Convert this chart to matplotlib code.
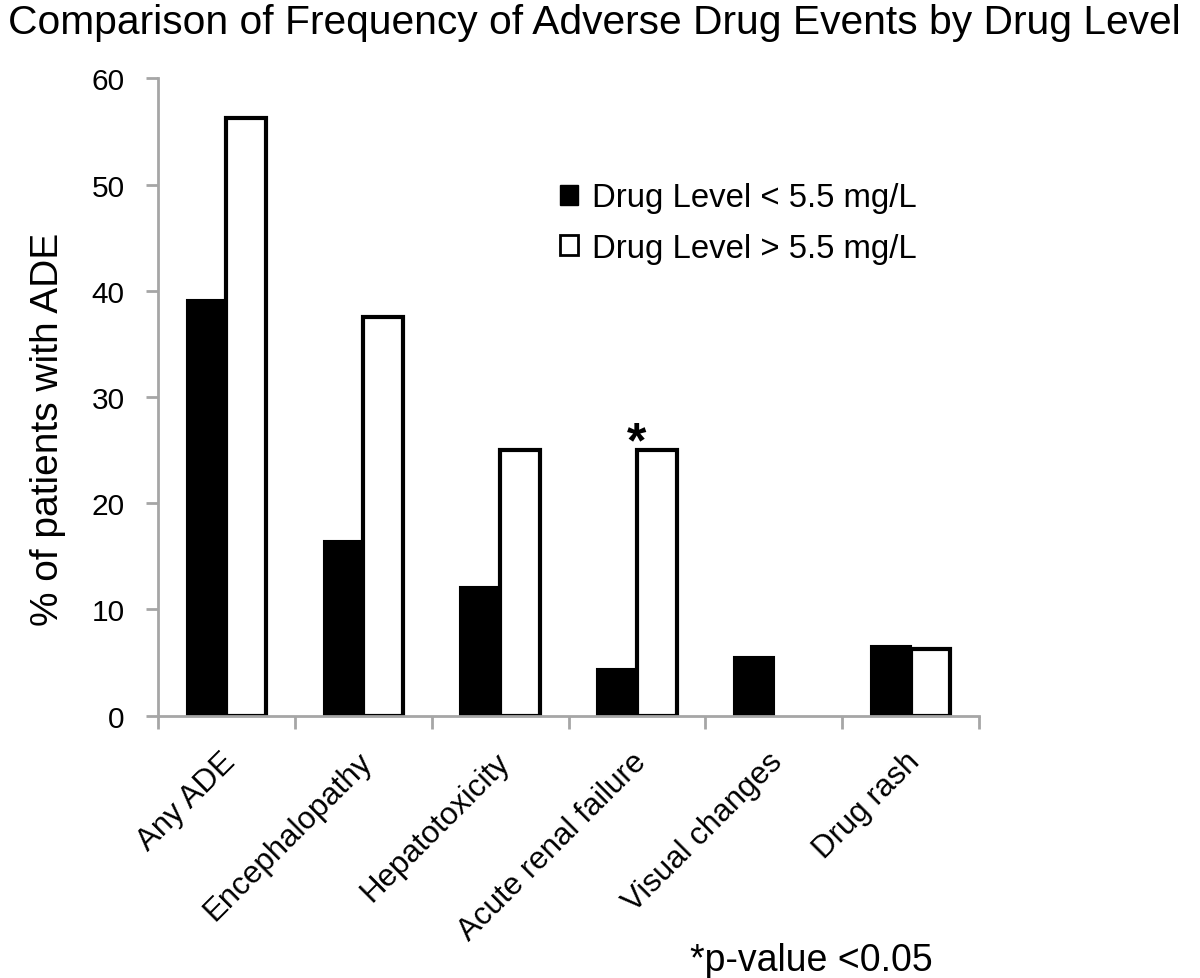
import numpy as np
import matplotlib
matplotlib.use('Agg')
import matplotlib.pyplot as plt
import matplotlib.transforms as mtransforms
from matplotlib.patches import Patch

plt.rcParams['font.family'] = ['Liberation Sans', 'DejaVu Sans']

# data
categories = ['Any ADE', 'Encephalopathy', 'Hepatotoxicity', 'Acute renal failure',
              'Visual changes', 'Drug rash']
low_level = [39.1, 16.4, 12.1, 4.4, 5.5, 6.5]    # Drug Level < 5.5 mg/L
high_level = [56.3, 37.5, 25.0, 25.0, 0.0, 6.3]  # Drug Level > 5.5 mg/L
yticks = [0, 10, 20, 30, 40, 50, 60]

grey = '#a6a6a6'
w = 0.29

fig = plt.figure(figsize=(12, 9.79), dpi=100)
ax = fig.add_axes([0.1317, 0.2681, 0.6841, 0.6509])

x = np.arange(len(categories))
ax.bar(x - w / 2, low_level, width=w, color='black', edgecolor='black', linewidth=1.5)
hi = np.array(high_level)
mask = hi > 0
ax.bar(x[mask] + w / 2, hi[mask], width=w, color='white', edgecolor='black', linewidth=3)

ax.set_xlim(-0.5, len(categories) - 0.5)
ax.set_ylim(0, 60)
ax.set_yticks(yticks)
ax.tick_params(axis='y', labelsize=21.5, color=grey, width=2, length=9, direction='out', pad=15)

# category boundaries get tick marks, labels sit at the centres
ax.set_xticks(x)
ax.set_xticklabels(categories, rotation=45, ha='right', va='top', rotation_mode='anchor', fontsize=22.5)
ax.tick_params(axis='x', which='major', length=0, pad=22)
shift = mtransforms.ScaledTranslation(-0.06, 0, fig.dpi_scale_trans)
for lab in ax.get_xticklabels():
    lab.set_transform(lab.get_transform() + shift)
ax.set_xticks(np.arange(-0.5, len(categories)), minor=True)
ax.tick_params(axis='x', which='minor', color=grey, width=2, length=9, direction='out')

for s in ['top', 'right']:
    ax.spines[s].set_visible(False)
for s in ['left', 'bottom']:
    ax.spines[s].set_color(grey)
    ax.spines[s].set_linewidth(2)

ax.set_ylabel('% of patients with ADE', fontsize=28, va='center')
ax.yaxis.set_label_coords(-0.134, 0.45)

# significance marker
ax.text(3, 24.4, '*', ha='center', va='baseline', fontsize=36, fontweight='bold')

handles = [Patch(facecolor='black', edgecolor='black'),
           Patch(facecolor='white', edgecolor='black', linewidth=2)]
ax.legend(handles, ['Drug Level < 5.5 mg/L', 'Drug Level > 5.5 mg/L'],
          loc='upper left', bbox_to_anchor=(0.454, 0.883), frameon=False, fontsize=23.7,
          handlelength=0.55, handleheight=0.55, handletextpad=0.4, labelspacing=0.58)

fig.text(0.495, 1 - 34 / 979, 'Comparison of Frequency of Adverse Drug Events by Drug Level',
         ha='center', va='baseline', fontsize=29.3)
fig.text(0.676, 1 - 971 / 979, '*p-value <0.05', ha='center', va='baseline', fontsize=27)

fig.savefig('out.png', dpi=100)
